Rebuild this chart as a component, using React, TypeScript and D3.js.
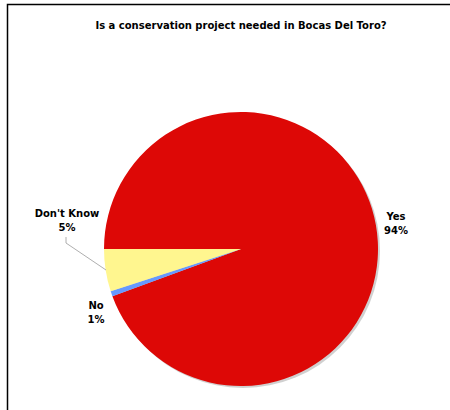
import React from "react";
import * as d3 from "d3";

const categories = ["Yes", "No", "Don't Know"];
const values = [94.4, 0.6, 5.0];
const labels = ["94%", "1%", "5%"];
const colors = ["#dd0806", "#6699ff", "#fff68f"];
const title = "Is a conservation project needed in Bocas Del Toro?";

export default function App() {
  const W = 450, H = 410;
  const cx = 241, cy = 249, r = 137;
  const pie = d3.pie<number>().sort(null).startAngle(-Math.PI / 2).endAngle((3 * Math.PI) / 2);
  const arcs = pie(values);
  const arc = d3.arc<d3.PieArcDatum<number>>().innerRadius(0).outerRadius(r);
  const font = "'DejaVu Sans', Verdana, sans-serif";
  const labelPos = [
    { x: 396, y: 220 },
    { x: 96, y: 309 },
    { x: 67, y: 217 },
  ];
  return (
    <svg width={W} height={H} style={{ position: "absolute", left: 0, top: 0 }}>
      <rect x={0} y={0} width={W} height={H} fill="#fff" />
      <path d={`M7.5,${H} V4.5 H${W}`} fill="none" stroke="#000" strokeWidth={1.5} />
      <text x={241} y={29} textAnchor="middle" fontFamily={font} fontWeight="bold" fontSize={10} fill="#000">
        {title}
      </text>
      <circle cx={cx + 2} cy={cy + 2} r={r} fill="#b0b0b0" opacity={0.6} />
      <g transform={`translate(${cx},${cy})`}>
        {arcs.map((a, i) => (
          <path key={categories[i]} d={arc(a) || ""} fill={colors[i]} />
        ))}
      </g>
      <polyline points="66,237 66,243 106,270" fill="none" stroke="#999" strokeWidth={0.8} />
      {categories.map((c, i) => (
        <text key={c} x={labelPos[i].x} y={labelPos[i].y} textAnchor="middle" fontFamily={font} fontWeight="bold" fontSize={10} fill="#000">
          <tspan x={labelPos[i].x} dy={0}>{c}</tspan>
          <tspan x={labelPos[i].x} dy={13.5}>{labels[i]}</tspan>
        </text>
      ))}
    </svg>
  );
}
